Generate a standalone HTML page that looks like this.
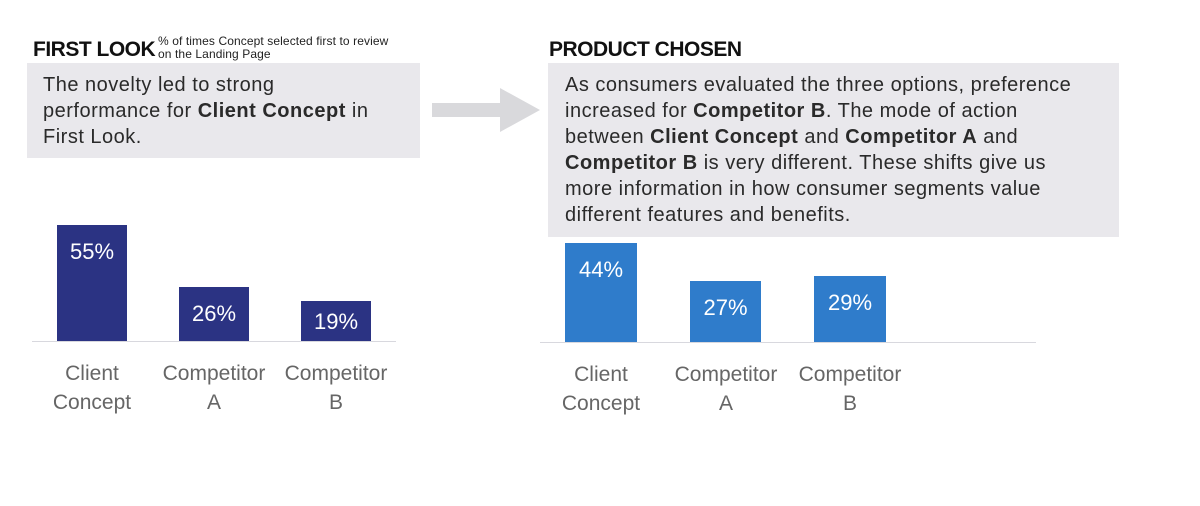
<!DOCTYPE html>
<html><head><meta charset="utf-8"><style>
body{margin:0;width:1200px;height:506px;background:#fff;position:relative;overflow:hidden;font-family:"Liberation Sans",sans-serif;color:#222}
div{position:absolute}
.h{font-weight:bold;font-size:21px;color:#111;letter-spacing:-0.5px}
.box{background:#e9e8ec}
.t{font-size:20px;line-height:26px;white-space:nowrap;color:#2a2a2a;letter-spacing:0.5px}
.bar{text-align:center;color:#fff;font-size:22px}
.n{background:#2b3383}.b{background:#2f7ccb}
.lab{text-align:center;color:#666;font-size:21px;line-height:29px;width:140px}
.base{height:1px;background:#d8d8de}
</style></head><body>
<div class="h" style="left:33px;top:38px">FIRST LOOK</div>
<div style="left:158px;top:35px;font-size:12px;line-height:13px;color:#222;letter-spacing:0.1px">% of times Concept selected first to review<br>on the Landing Page</div>
<div class="box" style="left:27px;top:63px;width:393px;height:95px"></div>
<div class="t" style="left:43px;top:72px">The novelty led to strong<br>performance for <b>Client Concept</b> in<br>First Look.</div>
<svg style="position:absolute;left:430px;top:86px" width="112" height="48"><polygon points="2,17 70,17 70,2 110,24 70,46 70,31 2,31" fill="#d9d9dc"/></svg>
<div class="base" style="left:32px;top:341px;width:364px"></div>
<div class="bar n" style="left:57px;top:225px;width:70px;height:116px;line-height:54px">55%</div>
<div class="bar n" style="left:179px;top:287px;width:70px;height:54px;line-height:54px">26%</div>
<div class="bar n" style="left:301px;top:301px;width:70px;height:40px;line-height:42px">19%</div>
<div class="lab" style="left:22px;top:359px">Client<br>Concept</div>
<div class="lab" style="left:144px;top:359px">Competitor<br>A</div>
<div class="lab" style="left:266px;top:359px">Competitor<br>B</div>

<div class="h" style="left:549px;top:38px">PRODUCT CHOSEN</div>
<div class="box" style="left:548px;top:63px;width:571px;height:174px"></div>
<div class="t" style="left:565px;top:72px">As consumers evaluated the three options, preference<br>increased for <b>Competitor B</b>. The mode of action<br>between <b>Client Concept</b> and <b>Competitor A</b> and<br><b>Competitor B</b> is very different. These shifts give us<br>more information in how consumer segments value<br>different features and benefits.</div>
<div class="base" style="left:540px;top:342px;width:496px"></div>
<div class="bar b" style="left:565px;top:243px;width:72px;height:99px;line-height:54px">44%</div>
<div class="bar b" style="left:690px;top:281px;width:71px;height:61px;line-height:54px">27%</div>
<div class="bar b" style="left:814px;top:276px;width:72px;height:66px;line-height:54px">29%</div>
<div class="lab" style="left:531px;top:360px">Client<br>Concept</div>
<div class="lab" style="left:656px;top:360px">Competitor<br>A</div>
<div class="lab" style="left:780px;top:360px">Competitor<br>B</div>
</body></html>
